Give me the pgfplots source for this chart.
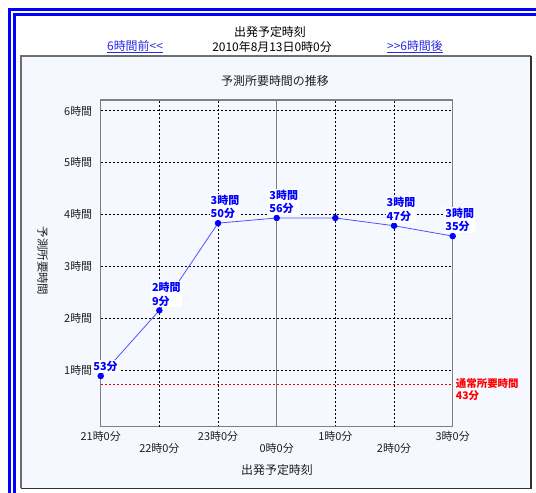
\documentclass[border=0pt]{standalone}
\usepackage{fontspec}
\setmainfont{Noto Sans CJK JP}
\usepackage{pgfplots}
\pgfplotsset{compat=1.18}

\definecolor{panel}{RGB}{245,249,255}
\definecolor{axgray}{RGB}{128,128,128}
\definecolor{edgegray}{RGB}{110,110,110}
\definecolor{edgedark}{RGB}{50,50,50}
\definecolor{linkblue}{RGB}{40,40,230}
\definecolor{lineblue}{RGB}{80,80,255}
\definecolor{txt}{RGB}{30,30,30}

\begin{document}
\begin{tikzpicture}[font=\fontsize{11}{13}\selectfont, text=txt]
\path[use as bounding box] (0,0) rectangle (536bp,-493bp);

% blue double frame
\fill[blue] (8bp,-493bp) rectangle (10.7bp,-8.3bp);
\fill[blue] (8bp,-8.3bp) rectangle (536bp,-10.7bp);
\fill[blue] (13.3bp,-493bp) rectangle (15.5bp,-13.3bp);
\fill[blue] (13.3bp,-13.3bp) rectangle (536bp,-15.5bp);

% panel
\fill[panel] (21bp,-56bp) rectangle (531bp,-488.3bp);
\draw[edgegray, line width=1.3bp] (21bp,-488.3bp) -- (21bp,-56bp) -- (531bp,-56bp);
\draw[edgedark, line width=1.5bp] (531bp,-56bp) -- (531bp,-488.3bp) -- (21bp,-488.3bp);

% headings
\node[font=\fontsize{12}{14}\selectfont, text=black] at (270bp,-32bp) {出発予定時刻};
\node[font=\fontsize{12}{14}\selectfont, text=black] at (272bp,-46.5bp) {2010年8月13日0時0分};
\node[font=\fontsize{12}{14}\selectfont, text=linkblue] at (135bp,-46.5bp) {\underline{6時間前<{}<}};
\node[font=\fontsize{12}{14}\selectfont, text=linkblue] at (415bp,-46.5bp) {\underline{>{}>6時間後}};
\node[font=\fontsize{12}{14}\selectfont] at (275bp,-81bp) {予測所要時間の推移};
\node[rotate=-90, font=\fontsize{11.5}{14}\selectfont] at (42.7bp,-261bp) {予測所要時間};
\node[font=\fontsize{12}{14}\selectfont] at (277bp,-470bp) {出発予定時刻};

\begin{axis}[
    at={(100.7bp,-426.7bp)}, anchor=south west,
    scale only axis, width=352bp, height=326.7bp,
    xmin=0, xmax=6, ymin=-0.095, ymax=6.21,
    axis line style={draw=axgray, line width=1.5bp},
    xtick={0,2,4,6}, ytick={1,2,3,4,5,6},
    xticklabels={21時0分,23時0分,1時0分,3時0分},
    extra x ticks={1,3,5},
    extra x tick labels={22時0分,0時0分,2時0分},
    extra x tick style={xticklabel style={yshift=-11.5bp}},
    yticklabels={1時間,2時間,3時間,4時間,5時間,6時間},
    major tick length=0pt,
    grid=major,
    grid style={black, line width=0.8bp, dash pattern=on 2bp off 2bp},
    tick label style={font=\fontsize{11}{13}\selectfont, text=txt},
    xticklabel style={anchor=north, yshift=-1.5bp},
    yticklabel style={anchor=east, xshift=-5bp},
    clip=false,
]
% midnight line
\addplot[axgray, line width=1.5bp] coordinates {(3,-0.095) (3,6.21)};
% usual travel time 43 min
\addplot[red, line width=0.8bp, dash pattern=on 2bp off 2bp] coordinates {(0,0.7167) (6,0.7167)};
\addplot[draw=none, mark=none, nodes near coords, point meta=explicit symbolic,
    nodes near coords style={anchor=west, xshift=2bp, yshift=-5bp, align=left, inner sep=1bp,
        text=red, font=\bfseries\fontsize{10.5}{12}\selectfont}]
    coordinates {(6,0.7167) [通常所要時間\\43分]};
% forecast
\addplot[lineblue, line width=0.8bp, mark=*, mark size=2.8bp, mark options={blue, fill=blue}]
    coordinates {(0,0.8833) (1,2.15) (2,3.8333) (3,3.9333) (4,3.9333) (5,3.7833) (6,3.5833)};
\addplot[draw=none, mark=none, nodes near coords, point meta=explicit symbolic,
    nodes near coords style={anchor=south west, xshift=-8.5bp, yshift=3bp, align=left,
        fill=white, inner sep=1bp, text=blue, font=\bfseries\fontsize{11}{13.5}\selectfont}]
    coordinates {(0,0.8833) [53分] (1,2.15) [2時間\\9分] (2,3.8333) [3時間\\50分]
        (3,3.9333) [3時間\\56分] (5,3.7833) [3時間\\47分] (6,3.5833) [3時間\\35分]};
\end{axis}
\end{tikzpicture}
\end{document}
